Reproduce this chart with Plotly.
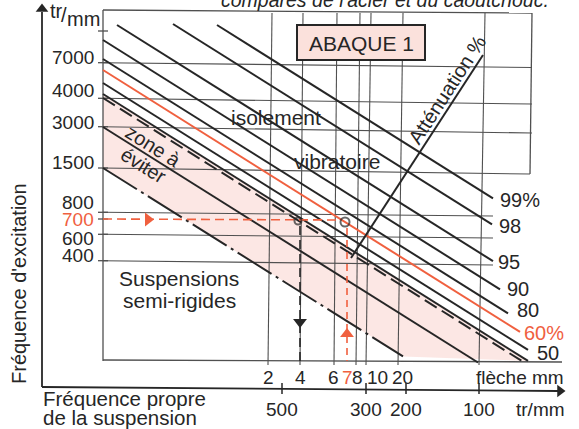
import plotly.graph_objects as go

FONT = "Liberation Sans, Arial, sans-serif"
INK = "#262626"
GRID = "#505050"
RED = "#f0603f"
PINK = "rgba(240,110,95,0.17)"
W, H = 579, 429
SLOPE = 0.628  # common slope of the attenuation lines on the abaque scale

# ---------------- data (abaque scale units) ----------------
# excitation-frequency scale (left)
y_labels = ["7000", "4000", "3000", "1500", "800", "700", "600", "400"]
y_tick = [62.7, 98.3, 126.7, 168.0, 212.3, 219.0, 234.3, 260.7]
y_tick_right = [67.5, 104.0, 133.0, 174.0, 216.0, None, 238.0, 265.0]
y_grid_end = [532, 532, 532, 530, 493, None, 493, 493]
y_label_pos = [57, 90, 122, 162, 202, 219, 238, 255]

# static deflection scale (flèche mm)
defl_labels = ["2", "4", "6", "7", "8", "10", "20"]
defl_bottom = [268, 300, 334, 347, 356, 366, 398]
defl_top = [272, 303, 337, None, 360, 371, 403]
defl_label_pos = [268, 300, 333, 347, 357, 377, 402]

# natural frequency scale (tr/mm)
f0_labels = ["500", "300", "200", "100"]
f0_pos = [282, 366, 406, 479]

# attenuation lines
att_labels = ["99%", "98", "95", "90", "80", "60%", "50"]
att_x0 = [217, 173, 117, 103, 103, 103, 103]
att_y0 = [25, 24, 25, 40, 59, 70, 83]
att_x1 = [493, 492, 493, 500, 508, 520, 528]
att_label_x = [520, 510, 509, 518, 528, 544, 548]
att_label_y = [200, 226, 262, 289, 310, 333, 353]

# "zone à éviter" boundary lines
zone_y0 = [94, 98, 127, 168]
zone_x1 = [528, 523, 478, 403]
zone_dash = ["solid", "14px,6px", "solid", "40px,5px,3px,5px"]

# worked example
ex_freq_pos = 219.0
ex_pts_x = [298, 345]
ex_defl_x = [300, 347]

fig = go.Figure()

def seg(x, y, color=INK, width=2.0, dash="solid"):
    fig.add_trace(go.Scatter(x=x, y=y, mode="lines", hoverinfo="skip",
                             line=dict(color=color, width=width, dash=dash)))

# pink zone to avoid
zx = [103, 103 + (361 - zone_y0[0]) / SLOPE, zone_x1[3], 103, 103]
zy = [zone_y0[0], 361, zone_y0[3] + SLOPE * (zone_x1[3] - 103), zone_y0[3], zone_y0[0]]
fig.add_trace(go.Scatter(x=zx, y=zy, mode="lines", fill="toself", fillcolor=PINK,
                         line=dict(width=0), hoverinfo="skip"))

# frame
seg([103, 103], [10, 361], GRID, 1.3)
seg([103, 532], [10, 13], GRID, 1.3)
seg([532, 530], [13, 174], GRID, 1.3)
seg([103, 562], [360, 362], GRID, 1.3)

# horizontal grid lines + ticks
for yl, yr, xe in zip(y_tick, y_tick_right, y_grid_end):
    if yr is not None:
        seg([103, xe], [yl, yr], GRID, 1.1)
for yl in y_tick + [31]:
    seg([98, 108], [yl, yl], GRID, 1.3)

# vertical grid lines
for xb, xt in zip(defl_bottom, defl_top):
    if xt is not None:
        seg([xt, xb], [13, 365], GRID, 1.1)
seg([485, 479], [13, 365], GRID, 1.1)

# attenuation lines
for i, lab in enumerate(att_labels):
    c = RED if lab == "60%" else INK
    y1 = att_y0[i] + SLOPE * (att_x1[i] - att_x0[i])
    seg([att_x0[i], att_x1[i]], [att_y0[i], y1], c, 2.0)
    fig.add_annotation(x=att_label_x[i], y=att_label_y[i], text=lab, showarrow=False,
                       font=dict(family=FONT, size=20, color=c))

# zone lines
for y0, x1, d in zip(zone_y0, zone_x1, zone_dash):
    seg([103, x1], [y0, y0 + SLOPE * (x1 - 103)], INK, 2.0, d)

# attenuation axis
seg([483, 351], [55, 258], INK, 2.0)

# example construction
seg([103, 340], [ex_freq_pos, ex_freq_pos + 1], RED, 1.6, "9px,5px")
seg([ex_defl_x[0], ex_defl_x[0]], [226, 361], INK, 1.6, "9px,5px")
seg([ex_defl_x[1], ex_defl_x[1]], [228, 361], RED, 1.6, "7px,5px")
fig.add_trace(go.Scatter(x=ex_pts_x, y=[221, 222], mode="markers", hoverinfo="skip",
                         marker=dict(symbol="circle-open", size=[7, 9], color=INK,
                                     line=dict(width=2, color=INK))))
fig.add_trace(go.Scatter(x=[148, 300, 347], y=[219.5, 322, 334], mode="markers", hoverinfo="skip",
                         marker=dict(symbol=["triangle-right", "triangle-down", "triangle-up"],
                                     size=12, color=[RED, INK, RED])))

# outer axes
seg([42, 42], [387, 12], INK, 1.8)
seg([42, 558], [387, 391], INK, 1.8)
fig.add_trace(go.Scatter(x=[42, 560], y=[9, 391], mode="markers", hoverinfo="skip",
                         marker=dict(symbol=["triangle-up", "triangle-right"], size=11, color=INK)))
for xp in f0_pos:
    seg([xp, xp], [383, 394], INK, 1.5)

# ABAQUE box
fig.add_shape(type="rect", x0=297, x1=425, y0=25, y1=60, xref="x", yref="y",
              fillcolor="#fbe1dc", line=dict(color=INK, width=2))
fig.add_annotation(x=361, y=43, text="ABAQUE 1", showarrow=False,
                   font=dict(family=FONT, size=21, color=INK))

def txt(x, y, s, size=20, color=INK, angle=0, xanchor="center"):
    fig.add_annotation(x=x, y=y, text=s, showarrow=False, textangle=angle, xanchor=xanchor,
                       font=dict(family=FONT, size=size, color=color))

for lab, yp in zip(y_labels, y_label_pos):
    txt(96, yp, lab, 19, RED if lab == "700" else INK, xanchor="right")
for lab, xp in zip(defl_labels, defl_label_pos):
    txt(xp, 377, lab, 19, RED if lab == "7" else INK)
txt(520, 377, "flèche mm", 19)
for lab, xp in zip(f0_labels, f0_pos):
    txt(xp, 409, lab, 19)
txt(540, 409, "tr/mm", 19)

txt(56, 11, "tr", 20)
txt(64, 15, "/", 20)
txt(83, 19, "mm", 20)
txt(19, 284, "Fréquence d'excitation", 20, angle=-90)
txt(41, 398, "Fréquence propre", 20.5, xanchor="left")
txt(41, 417, "de la suspension", 20.5, xanchor="left")
txt(179, 278, "Suspensions", 21)
txt(179, 300, "semi-rigides", 21)
txt(276, 117, "isolement", 21)
txt(337, 161, "vibratoire", 21)
txt(153, 146, "zone à", 20, angle=32)
txt(143, 165, "éviter", 20, angle=32)
txt(447, 90, "Atténuation %", 20, angle=-57)
fig.add_annotation(x=0.665, y=1, xref="paper", yref="paper", yanchor="middle", yshift=0,
                   text="<i>comparés de l'acier et du caoutchouc.</i>", showarrow=False,
                   font=dict(family=FONT, size=19.5, color=INK))

fig.update_layout(width=W, height=H, margin=dict(l=0, r=0, t=0, b=0),
                  paper_bgcolor="white", plot_bgcolor="white", showlegend=False,
                  xaxis=dict(range=[0, W], visible=False, fixedrange=True),
                  yaxis=dict(range=[H, 0], visible=False, fixedrange=True))
fig.write_html("out.html", config={"displayModeBar": False},
               post_script="document.body.style.margin='0';document.body.style.overflow='hidden';")
